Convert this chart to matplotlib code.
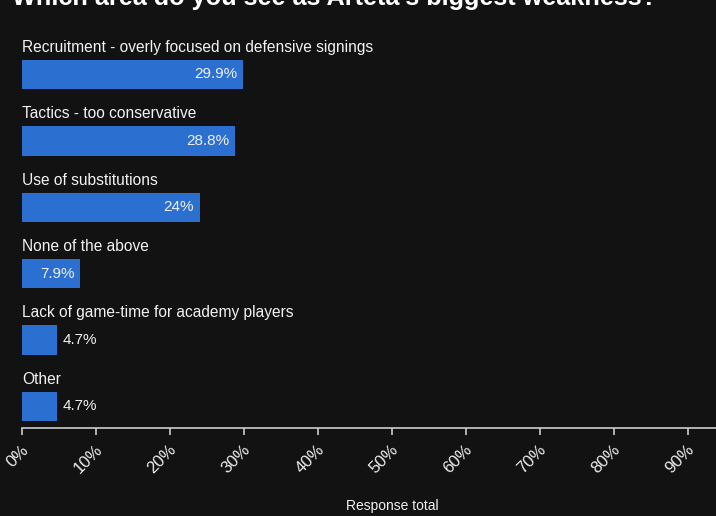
import matplotlib
matplotlib.use('Agg')
import matplotlib.pyplot as plt
import matplotlib.transforms as mtrans

# data
categories = ['Recruitment - overly focused on defensive signings',
              'Tactics - too conservative',
              'Use of substitutions',
              'None of the above',
              'Lack of game-time for academy players',
              'Other']
values = [29.9, 28.8, 24, 7.9, 4.7, 4.7]
value_labels = ['29.9%', '28.8%', '24%', '7.9%', '4.7%', '4.7%']
ticks = [0, 10, 20, 30, 40, 50, 60, 70, 80, 90]
tick_labels = ['0%', '10%', '20%', '30%', '40%', '50%', '60%', '70%', '80%', '90%']
title = "Which area do you see as Arteta's biggest weakness?"

font = 'Liberation Sans'
bg = '#121212'
blue = '#2b6fd0'
W, H = 716, 516
fig = plt.figure(figsize=(W / 100, H / 100), dpi=100, facecolor=bg)

# axes: 0% at x=22px, 7.4px per %, spine at y=428px
x0, pp = 22, 7.4
xmax = (W - x0) / pp
y_top, y_bot = 30, 428
ax = fig.add_axes([x0 / W, (H - y_bot) / H, 1 - x0 / W, (y_bot - y_top) / H])
ax.set_facecolor(bg)

c0, step = 74.5, 66.4
ax.set_xlim(0, xmax)
ax.set_ylim((y_bot - c0) / step, (y_top - c0) / step)

pos = list(range(len(categories)))
ax.barh(pos, values, height=0.44, color=blue)

for i in pos:
    # label above the bar
    ax.text(0, i - 0.41, categories[i], color='#f2f2f2', fontsize=11.2,
            family=font, va='center', ha='left')
    # value inside the bar, or right of it when the bar is short
    if values[i] > 6:
        ax.text(values[i] - 0.8, i, value_labels[i], color='#f0f0f0', fontsize=11,
                family=font, va='center', ha='right')
    else:
        ax.text(values[i] + 0.8, i, value_labels[i], color='#f0f0f0', fontsize=11,
                family=font, va='center', ha='left')

for s in ['top', 'right', 'left']:
    ax.spines[s].set_visible(False)
ax.spines['bottom'].set_color('#cccccc')
ax.spines['bottom'].set_linewidth(1.2)
ax.set_yticks([])
ax.set_xticks(ticks)
ax.set_xticklabels(tick_labels, rotation=45, ha='right', va='center',
                   rotation_mode='anchor', family=font, fontsize=12, color='#eeeeee')
ax.tick_params(axis='x', colors='#cccccc', length=5, width=1.2, pad=9,
               labelcolor='#eeeeee')
off = mtrans.ScaledTranslation(4 / 100, 0, fig.dpi_scale_trans)
for lab in ax.get_xticklabels():
    lab.set_transform(lab.get_transform() + off)

ax.set_xlabel('Response total', color='#f2f2f2', fontsize=10, family=font)
ax.xaxis.set_label_coords(50 / xmax, -(506 - y_bot) / (y_bot - y_top))
ax.xaxis.label.set_va('center')

# title, cut at the top edge as in the reference
fig.text(12 / W, 1 - 5 / H, title, color='#ffffff', fontsize=18.2, fontweight='bold',
         family=font, ha='left', va='baseline')

fig.savefig('out.png', dpi=100, facecolor=bg)
